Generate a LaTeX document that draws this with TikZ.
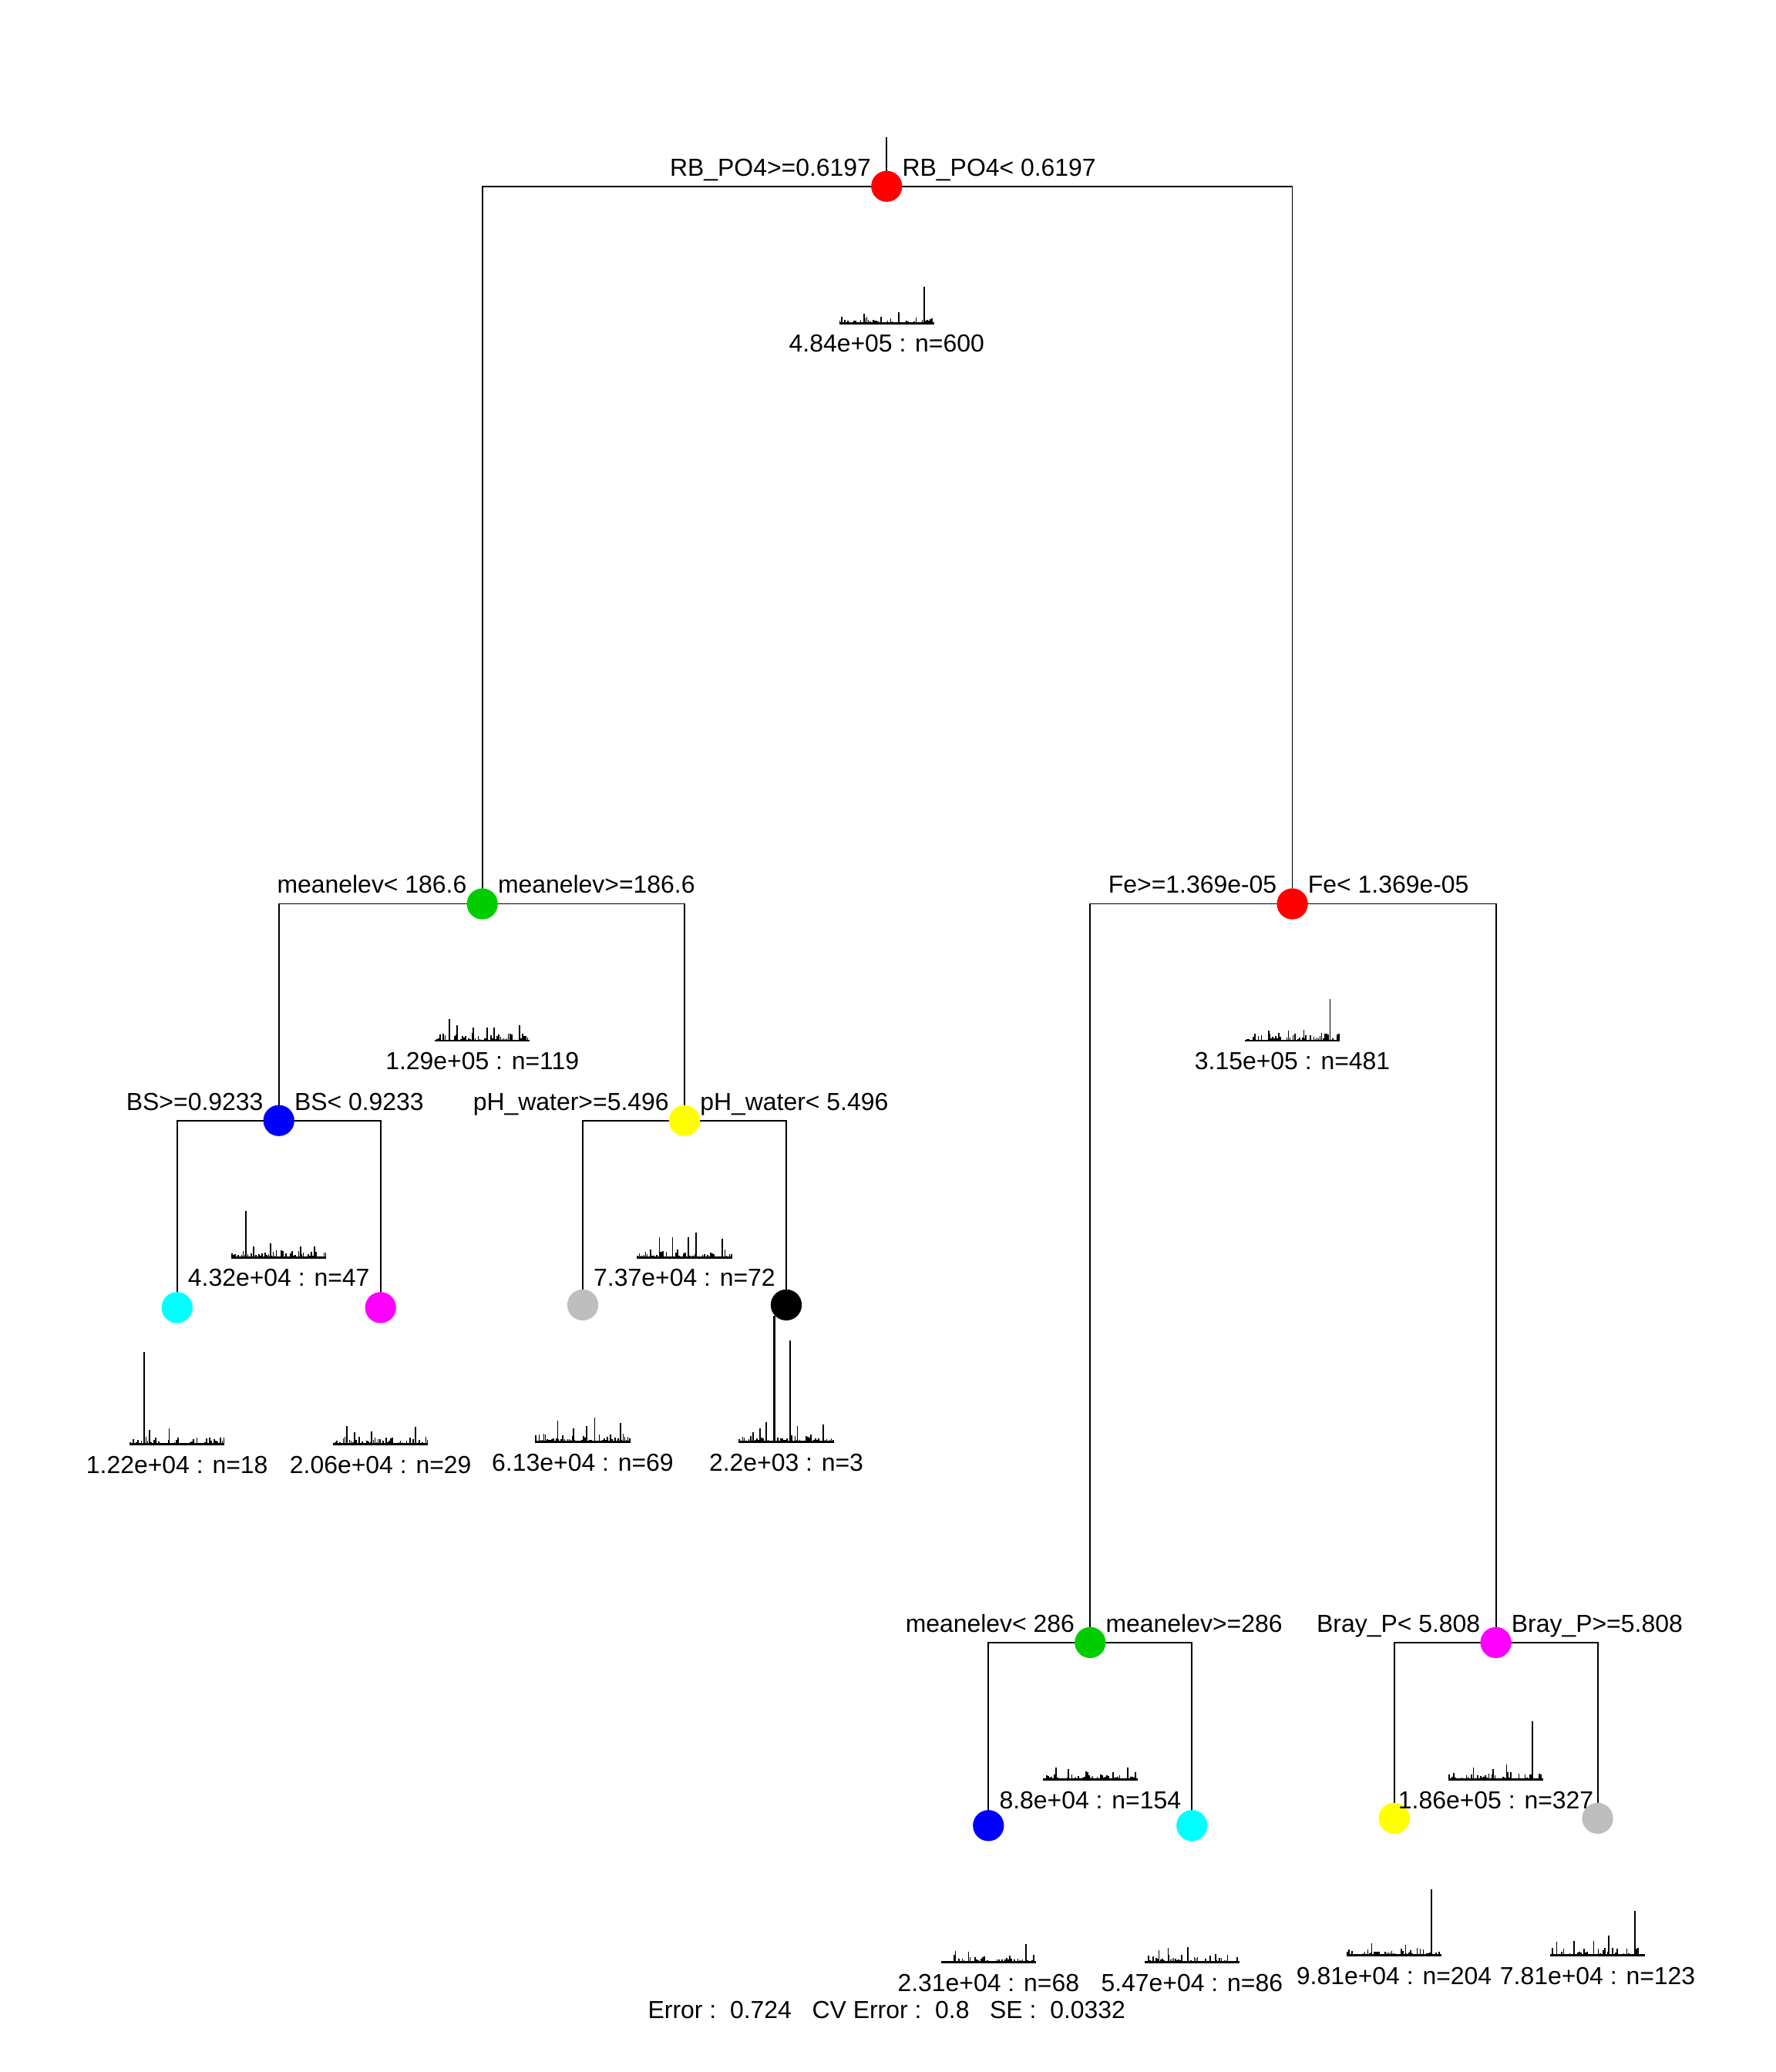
\documentclass[tikz,border=0pt]{standalone}
\usepackage{fontspec}
\setmainfont{Liberation Sans}
\usepackage{tikz}
\usetikzlibrary{calc,backgrounds}
\definecolor{rgreen}{HTML}{00CD00}
\definecolor{rgrey}{HTML}{BEBEBE}
\definecolor{rred}{HTML}{FF0000}
\definecolor{rblue}{HTML}{0000FF}
\definecolor{rcyan}{HTML}{00FFFF}
\definecolor{rmag}{HTML}{FF00FF}
\definecolor{ryel}{HTML}{FFFF00}
\newcommand{\fs}{\fontsize{10.6}{12.7}\selectfont}
\tikzset{
  br/.style={line width=0.6pt,black},
  sp/.style={circle,inner sep=0pt,minimum size=0.47cm},
  lb/.style={font=\fs,inner sep=0pt},
  hb/.style={line width=0.55pt},
  hl/.style={line width=0.9pt}
}
\newcommand{\splt}[3]{%
  \node[lb,anchor=base east] (#1l) at ($(#1)+(-11.5,-8)$) {#2};
  \node[lb,anchor=base west] (#1r) at ($(#1)+(11.5,-8)$) {#3};}
\newcommand{\spec}[4]{%
  \begin{scope}[shift={(#1.center)}]
    \pgfmathsetseed{#2}
    \foreach \k in {0,...,59}{%
      \pgfmathsetmacro{\rr}{rnd}\pgfmathsetmacro{\hh}{0.6+5.2*\rr*\rr*\rr}
      \draw[hb] (-35.4+\k*1.2,103.5) -- ++(0,-\hh);}
    \foreach \dx/\hh in {#3}\draw[hb] (\dx,103.5) -- ++(0,-\hh);
    \draw[hl] (-36,103.5) -- (36,103.5);
    \node[lb,anchor=base] (#1s) at (0,125.5) {#4};
  \end{scope}}

\begin{document}
\begin{tikzpicture}[x=0.02cm,y=-0.02cm]
\useasboundingbox (0,0) rectangle (1344,1568);
\foreach \nm/\x/\y/\c in {n1/671/141/rred,n2/365/684/rgreen,n3/978/684/rred,
  n4/211/848/rblue,n5/518/848/ryel,n6/825/1243/rgreen,n7/1132/1243/rmag,
  n8/134/989.5/rcyan,n9/288/989.5/rmag,n10/441/987.5/rgrey,n11/595/987.5/black,
  n12/748/1381.5/rblue,n13/902/1381.5/rcyan,n14/1055/1376/ryel,n15/1209/1376/rgrey}
  \node[sp,fill=\c] (\nm) at (\x,\y) {};
\coordinate (top) at (671,104);
\begin{pgfonlayer}{background}
\draw[br] (top) -- (n1.center);
\foreach \p/\q in {n1/n2,n1/n3,n2/n4,n2/n5,n3/n6,n3/n7,n4/n8,n4/n9,
  n5/n10,n5/n11,n6/n12,n6/n13,n7/n14,n7/n15}
  \draw[br] (\p.center) -| (\q.center);
\end{pgfonlayer}
\splt{n1}{RB\_PO4>=0.6197}{RB\_PO4< 0.6197}
\splt{n2}{meanelev< 186.6}{meanelev>=186.6}
\splt{n3}{Fe>=1.369e-05}{Fe< 1.369e-05}
\splt{n4}{BS>=0.9233}{BS< 0.9233}
\splt{n5}{pH\_water>=5.496}{pH\_water< 5.496}
\splt{n6}{meanelev< 286}{meanelev>=286}
\splt{n7}{Bray\_P< 5.808}{Bray\_P>=5.808}
\spec{n1}{11}{28.5/27.6,9/8.2,-17/7.2}{4.84e+05 : n=600}
\spec{n2}{12}{-25/16.5,-19/11.7,-7/10,3.7/10,9/10,28/11.7}{1.29e+05 : n=119}
\spec{n3}{13}{28.5/31.7,-18/7.8,-3/7.8,8.7/8}{3.15e+05 : n=481}
\spec{n4}{14}{-25/35,-6.4/10.7,-19/8.4,16.5/8,27/8}{4.32e+04 : n=47}
\spec{n5}{15}{8.6/18.5,-19/15,-9/15,3/15,28.5/14}{7.37e+04 : n=72}
\spec{n6}{16}{28.4/8.8,-26/8.8,-16.5/7.8,-3/6}{8.8e+04 : n=154}
\spec{n7}{17}{27.8/43.8,8.2/11,-17/8.8,-2/8}{1.86e+05 : n=327}
\spec{n8}{18}{-25/70,-6/12.3,-21/10.7}{1.22e+04 : n=18}
\spec{n9}{19}{-25.5/13.6,26.5/13.2,-7/10,-19.6/9.3}{2.06e+04 : n=29}
\spec{n10}{20}{9/18.5,-19/16,-7/10,3/11.7,28.7/14}{6.13e+04 : n=69}
\spec{n11}{21}{3/76.4,-20/10.3,-15/15,8.4/11.7,28/13,-25/7}{2.2e+03 : n=3}
\draw[hl] ($(n11.center)+(-9,103.5)$) -- ++(0,-95);
\spec{n12}{22}{28.5/14,-25/8.4,-15/8}{2.31e+04 : n=68}
\spec{n13}{23}{-18/11,-25/9,-3/11.3,18/6.4}{5.47e+04 : n=86}
\spec{n14}{24}{28.4/49.8,-17/8.8,8.7/8}{9.81e+04 : n=204}
\spec{n15}{25}{28.4/33.6,8.3/15,-3/10.7,-18/10.7,-31/10}{7.81e+04 : n=123}
\node[lb,anchor=base] (err) at (671,1527.5) {Error :~~0.724~~~CV Error :~~0.8~~~SE :~~0.0332};
\end{tikzpicture}
\end{document}
